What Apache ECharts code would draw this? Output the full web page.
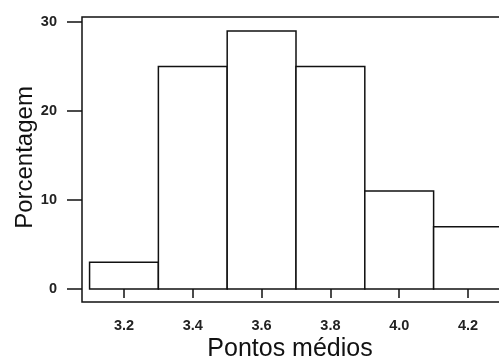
<!DOCTYPE html>
<html><head><meta charset="utf-8">
<script src="https://cdn.jsdelivr.net/npm/echarts@6/dist/echarts.min.js"></script>
<style>html,body{margin:0;padding:0;background:#fff;overflow:hidden}#c{width:499px;height:363px}</style>
</head><body><div id="c"></div>
<script>
const midpoints = [3.2, 3.4, 3.6, 3.8, 4.0, 4.2];
const percentages = [3, 25, 29, 25, 11, 7];
const binWidth = 0.2;
const xTicks = [3.2, 3.4, 3.6, 3.8, 4.0, 4.2];
const yTicks = [0, 10, 20, 30];
const xTitle = 'Pontos médios';
const yTitle = 'Porcentagem';

const data = midpoints.map((m, i) => [m, percentages[i]]);
const chart = echarts.init(document.getElementById('c'), null, {renderer: 'canvas'});
chart.setOption({
  animation: false,
  backgroundColor: '#fff',
  grid: {left: 82, width: 428, top: 17, bottom: 61, containLabel: false, outerBoundsMode: 'none',
    show: true, borderColor: '#111', borderWidth: 1.5, backgroundColor: 'transparent'},
  xAxis: {
    type: 'value', min: 3.078, max: 4.322,
    name: xTitle, nameLocation: 'middle', nameGap: 35, nameMoveOverlap: false,
    nameTextStyle: {fontFamily: 'Liberation Sans', fontSize: 25, color: '#111', padding: [0, 12, 0, 0]},
    axisLine: {show: false},
    splitLine: {show: false},
    axisTick: {show: true, length: 9, customValues: xTicks, lineStyle: {color: '#111', width: 1.5}},
    axisLabel: {customValues: xTicks, margin: 16, fontFamily: 'Liberation Sans', fontSize: 14.5, fontWeight: 'bold', color: '#222',
      formatter: v => v.toFixed(1)}
  },
  yAxis: {
    type: 'value', min: -1.46, max: 30.56,
    name: yTitle, nameLocation: 'middle', nameGap: 45, nameMoveOverlap: false,
    nameTextStyle: {fontFamily: 'Liberation Sans', fontSize: 24, color: '#111', padding: [0, 0, 0, 4]},
    axisLine: {show: false},
    splitLine: {show: false},
    axisTick: {show: true, length: 15, customValues: yTicks, lineStyle: {color: '#111', width: 1.5}},
    axisLabel: {customValues: yTicks, margin: 25, fontFamily: 'Liberation Sans', fontSize: 14.5, fontWeight: 'bold', color: '#222'}
  },
  series: [{
    type: 'custom',
    data: data,
    clip: false,
    renderItem: function (params, api) {
      const x = api.value(0), y = api.value(1);
      const p0 = api.coord([x - binWidth / 2, 0]);
      const p1 = api.coord([x + binWidth / 2, y]);
      return {
        type: 'rect',
        shape: {x: p0[0], y: p1[1], width: p1[0] - p0[0], height: p0[1] - p1[1]},
        style: {fill: '#fff', stroke: '#111', lineWidth: 1.5}
      };
    }
  }]
});
</script></body></html>
